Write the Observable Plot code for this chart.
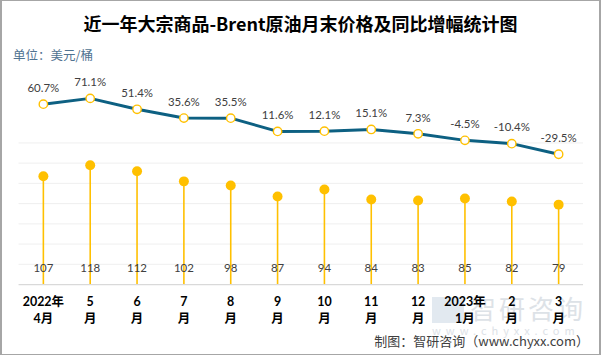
<!DOCTYPE html>
<html>
<head>
<meta charset="utf-8">
<script src="https://cdn.jsdelivr.net/npm/d3@7"></script>
<script src="https://cdn.jsdelivr.net/npm/@observablehq/plot@0.6"></script>
<style>
  html, body { margin: 0; padding: 0; background: #fff; }
  #wrap { position: relative; width: 601px; height: 355px; box-sizing: border-box;
          border: 1px solid #a6a6a6; border-left-width: 2px; border-right-width: 2px; overflow: hidden;
          font-family: Lato, "Noto Sans CJK SC", sans-serif; }
  #title { position: absolute; left: 0; width: 597px; top: 9px; text-align: center; white-space: nowrap;
           font-family: "Noto Sans CJK SC", sans-serif; font-weight: bold; font-size: 18px; color: #000; line-height: 26px; }
  #unit { position: absolute; left: 11px; top: 44px; font-size: 12.5px; color: #4f7391; white-space: nowrap;
          font-family: "Noto Sans CJK SC", sans-serif; }
  #foot { position: absolute; right: 10px; top: 331px; font-size: 13px; color: #404040; white-space: nowrap;
          font-family: "Noto Sans CJK SC", sans-serif; line-height: 18px; }
  #wm { position: absolute; left: 428px; top: 292px; width: 160px; color: #dde2e7; white-space: nowrap;
        font-family: "Noto Sans CJK SC", sans-serif; }
  #wm .big { font-size: 26px; letter-spacing: 3px; line-height: 30px; padding-left: 40px; }
  #wm .small { font-size: 11px; letter-spacing: 5px; line-height: 14px; padding-left: 2px; }
  #wm .logo { position: absolute; left: 2px; top: 4px; width: 32px; height: 26px; background: #e2e9f0; }
  #chart { position: absolute; left: -2px; top: -1px; }
</style>
</head>
<body>
<div id="wrap">
  <div id="wm"><div class="logo"></div><div class="big">智研咨询</div><div class="small">www.chyxx.com</div></div>
  <div id="chart"></div>
  <div id="title">近一年大宗商品-Brent原油月末价格及同比增幅统计图</div>
  <div id="unit">单位：美元/桶</div>
  <div id="foot">制图：智研咨询（www.chyxx.com）</div>
</div>
<script>
const months = ["2022年\n4月", "5\n月", "6\n月", "7\n月", "8\n月", "9\n月", "10\n月", "11\n月", "12\n月", "2023年\n1月", "2\n月", "3\n月"];
const prices = [107, 118, 112, 102, 98, 87, 94, 84, 83, 85, 82, 79];
const growth = [60.7, 71.1, 51.4, 35.6, 35.5, 11.6, 12.1, 15.1, 7.3, -4.5, -10.4, -29.5];
const gridTicks = [20, 40, 60, 80, 100, 120, 140];

const data = months.map((m, i) => ({ month: m, price: prices[i], growth: growth[i] }));
// secondary (percent) axis expressed in primary-axis units
const pctY = d => 145 + 0.549 * d.growth;

const chart = Plot.plot({
  width: 601,
  height: 355,
  marginLeft: 18.6,
  marginRight: 16,
  marginTop: 82,
  marginBottom: 70,
  style: { fontFamily: 'Lato, "Noto Sans CJK SC", sans-serif', background: "transparent" },
  x: { type: "point", domain: months, padding: 0.5, label: null },
  y: { domain: [0, 200], axis: null },
  marks: [
    Plot.ruleY(gridTicks, { stroke: "#efefef", strokeWidth: 1 }),
    Plot.ruleX(data, { x: "month", y1: 0, y2: "price", stroke: "#ffc000", strokeWidth: 1.6 }),
    Plot.dot(data, { x: "month", y: "price", r: 5, fill: "#ffc000", stroke: "none" }),
    Plot.ruleY([0], { stroke: "#d9d9d9", strokeWidth: 1.2 }),
    Plot.text(data, { x: "month", frameAnchor: "bottom", dy: -13, text: d => String(d.price),
                      fontSize: 11.5, fill: "#404040" }),
    Plot.line(data, { x: "month", y: pctY, stroke: "#0d6082", strokeWidth: 3 }),
    Plot.dot(data, { x: "month", y: pctY, r: 4.2, fill: "#fff", stroke: "#ffc000", strokeWidth: 1.4 }),
    Plot.text(data, { x: "month", y: pctY, dy: -16, text: d => d.growth.toFixed(1) + "%",
                      fontSize: 11.5, fill: "#404040" }),
    Plot.axisX({ anchor: "bottom", tickSize: 0, tickPadding: 9, fontSize: 12.5, fontWeight: "bold",
                 lineHeight: 1.4, fill: "#000", label: null })
  ]
});
document.getElementById("chart").appendChild(chart);
</script>
</body>
</html>
